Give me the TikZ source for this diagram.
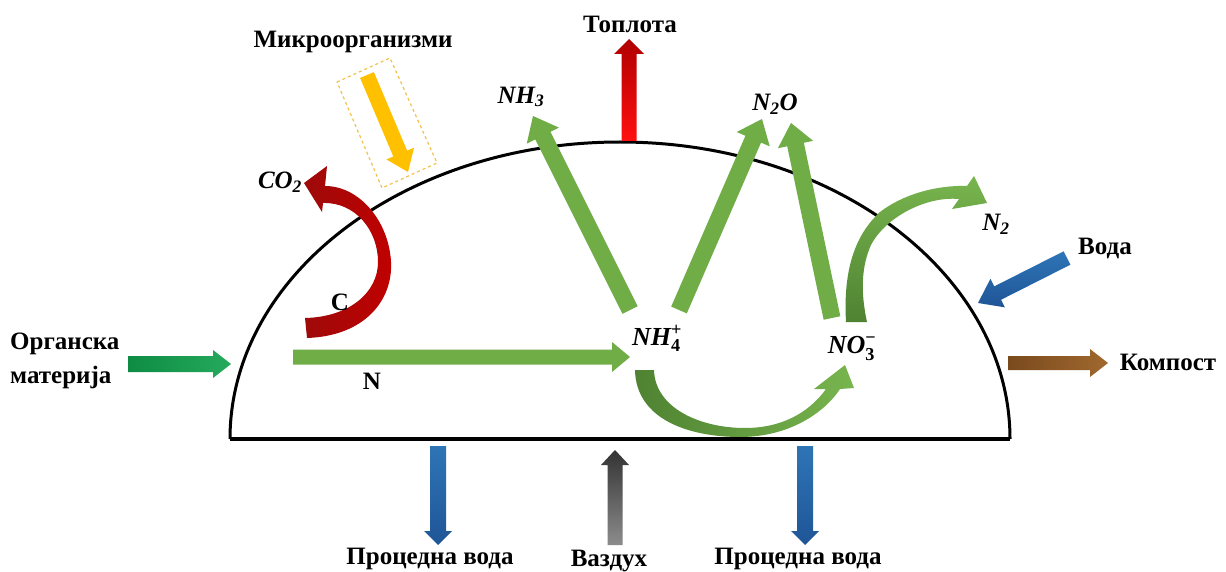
\documentclass[tikz,border=0pt]{standalone}
\usepackage{fontspec}
\setmainfont{Liberation Serif}
\usepackage{amsmath}
\usetikzlibrary{calc}
\definecolor{grn}{HTML}{70AD47}
\definecolor{grndk}{HTML}{4F8232}
\definecolor{grnlt}{HTML}{78B54E}
\definecolor{orgA}{HTML}{0E8C44}
\definecolor{orgB}{HTML}{25AA5C}
\definecolor{redA}{HTML}{9E0A0A}
\definecolor{redB}{HTML}{C00000}
\definecolor{heatA}{HTML}{B00000}
\definecolor{heatB}{HTML}{FF1010}
\definecolor{yel}{HTML}{FFC000}
\definecolor{yelbox}{HTML}{F2C14E}
\definecolor{bluA}{HTML}{2E75B6}
\definecolor{bluB}{HTML}{1F5597}
\definecolor{brnA}{HTML}{7A4A1E}
\definecolor{brnB}{HTML}{A0682E}
\definecolor{gryA}{HTML}{333333}
\definecolor{gryB}{HTML}{8C8C8C}
% block arrow: style, x1, y1, x2, y2, shaft width, head width, head length
\newcommand\barrow[8]{%
  \pgfmathsetmacro\bdx{#4-(#2)}%
  \pgfmathsetmacro\bdy{#5-(#3)}%
  \pgfmathsetmacro\blen{veclen(\bdx,\bdy)}%
  \pgfmathsetmacro\bux{\bdx/\blen}%
  \pgfmathsetmacro\buy{\bdy/\blen}%
  \pgfmathsetmacro\bbx{#4-(#8)*(\bux)}%
  \pgfmathsetmacro\bby{#5-(#8)*(\buy)}%
  \pgfmathsetmacro\bs{(#6)/2}%
  \pgfmathsetmacro\bh{(#7)/2}%
  \path[#1] ({#2-(\bs)*(\buy)},{#3+(\bs)*(\bux)})
    -- ({\bbx-(\bs)*(\buy)},{\bby+(\bs)*(\bux)})
    -- ({\bbx-(\bh)*(\buy)},{\bby+(\bh)*(\bux)})
    -- (#4,#5)
    -- ({\bbx+(\bh)*(\buy)},{\bby-(\bh)*(\bux)})
    -- ({\bbx+(\bs)*(\buy)},{\bby-(\bs)*(\bux)})
    -- ({#2+(\bs)*(\buy)},{#3-(\bs)*(\bux)}) -- cycle;%
}
\newcommand\upb[1]{\textbf{\upshape #1}}
\tikzset{
  lbl/.style={font=\fontsize{25}{34}\selectfont\bfseries, inner sep=0pt},
  ilbl/.style={font=\fontsize{25}{30}\selectfont\bfseries\itshape, inner sep=0pt},
  mlbl/.style={font=\fontsize{26}{30}\selectfont\bfseries\itshape, inner sep=0pt},
}
\begin{document}
\begin{tikzpicture}[x=1pt,y=-1pt]
\fill[white] (0,0) rectangle (1226,572);
\useasboundingbox (0,0) rectangle (1226,572);

% dome
\draw[line width=3pt] (230,439) arc[start angle=180,end angle=360,x radius=390,y radius=297];
\draw[line width=3.2pt] (230,439) -- (1010,439);

% microorganisms
\draw[dashed, yelbox, line width=1.2pt] (337,82) -- (390,58) -- (437,163) -- (382,188) -- cycle;
\barrow{fill=yel}{367}{75}{408}{172}{15}{30}{20}

% CO2 ribbon
\path[left color=redA, right color=redB]
  (307,338) .. controls (365,336) and (393,300) .. (391,262)
  .. controls (389,222) and (360,186) .. (325,186)
  -- (327,166) -- (304,183) -- (322,212) -- (323,203)
  .. controls (355,202) and (378,230) .. (378,262)
  .. controls (378,292) and (350,317) .. (305,318) -- cycle;

% heat
\barrow{top color=heatA, bottom color=heatB}{629}{141}{629}{39}{15}{30}{15}

% nitrogen straight arrows
\barrow{fill=grn}{293}{357}{630}{357}{15}{30}{18}
\barrow{fill=grn}{630}{310}{533}{116}{17}{36}{22}
\barrow{fill=grn}{679}{310}{762}{119}{17}{36}{22}
\barrow{fill=grn}{832}{318}{791}{123}{17}{36}{22}

% N2 ribbon
\path[top color=grnlt, bottom color=grndk]
  (846,322) .. controls (843,270) and (855,235) .. (880,212)
  .. controls (902,195) and (935,185) .. (967,186)
  -- (974,176) -- (987,203) -- (952,209) -- (959,199)
  .. controls (925,196) and (885,218) .. (871,245)
  .. controls (862,265) and (860,290) .. (867,322) -- cycle;

% NH4 -> NO3 ribbon
\path[left color=grndk, right color=grnlt]
  (635,370) .. controls (636,420) and (690,437) .. (740,437)
  .. controls (790,437) and (825,412) .. (840,389)
  -- (854,388) -- (845,365) -- (814,389) -- (826,389)
  .. controls (808,414) and (780,428) .. (745,428)
  .. controls (700,428) and (655,408) .. (654,370) -- cycle;

% inputs / outputs
\barrow{left color=orgA, right color=orgB}{128}{364}{231}{364}{16}{28}{18}
\barrow{top color=bluA, bottom color=bluB}{1067}{258}{978}{303}{15}{32}{22}
\barrow{left color=brnA, right color=brnB}{1008}{363}{1108}{363}{14}{28}{18}
\barrow{top color=bluA, bottom color=bluB}{438}{446}{438}{545}{16}{28}{14}
\barrow{top color=gryA, bottom color=gryB}{615}{545}{615}{450}{15}{28}{15}
\barrow{top color=bluA, bottom color=bluB}{805}{446}{805}{545}{16}{28}{14}

% labels
\node[lbl] (micro) at (353,42) {Микроорганизми};
\node[lbl] (heat) at (630,24) {Топлота};
\node[ilbl] (co2) at (280,182) {CO\textsubscript{2}};
\node[ilbl] (nh3) at (521,97) {NH\textsubscript{3}};
\node[ilbl] (n2o) at (775,104) {N\textsubscript{2}O};
\node[ilbl] (n2) at (996,224) {N\textsubscript{2}};
\node[lbl] (c) at (340,302) {C};
\node[lbl] (n) at (372,381) {N};
\node[mlbl, anchor=base] (nh4) at (657,345) {NH$^{\upb{+}}_{\upb{4}}$};
\node[mlbl, anchor=base] (no3) at (852,353) {NO$^{\upb{\char"2212}}_{\upb{3}}$};
\node[lbl] (voda) at (1105,248) {Вода};
\node[lbl] (kompost) at (1168,362) {Компост};
\node[lbl, align=left, anchor=west] (org) at (10,361) {Органска\\материја};
\node[lbl, anchor=base] (proc1) at (430,564) {Процедна вода};
\node[lbl, anchor=base] (vazduh) at (609,566) {Ваздух};
\node[lbl, anchor=base] (proc2) at (798,564) {Процедна вода};
\end{tikzpicture}
\end{document}
